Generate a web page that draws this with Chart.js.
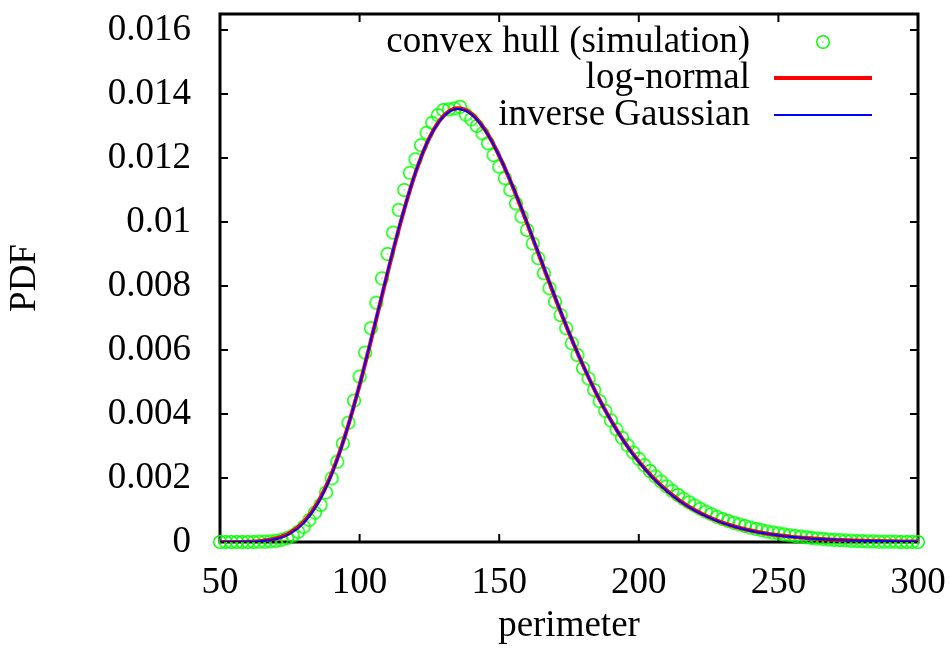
<!DOCTYPE html>
<html>
<head>
<meta charset="utf-8">
<script src="https://cdn.jsdelivr.net/npm/chart.js@4/dist/chart.umd.min.js"></script>
<style>
  html, body { margin: 0; padding: 0; background: #fff; }
  #wrap { width: 950px; height: 655px; }
</style>
</head>
<body>
<div id="wrap"><canvas id="chartPerimeterPdf"></canvas></div>
<script>
const X_TICKS = [50, 100, 150, 200, 250, 300];
const Y_TICKS = [0, 0.002, 0.004, 0.006, 0.008, 0.01, 0.012, 0.014, 0.016];

// simulated convex hull perimeters, histogram bin centres
const SIM_PERIMETER = [
    50, 52, 54, 56, 58, 60, 62, 64, 66, 68, 70, 72, 74, 76, 78, 80, 82, 84, 86, 88,
    90, 92, 94, 96, 98, 100, 102, 104, 106, 108, 110, 112, 114, 116, 118, 120, 122, 124, 126, 128,
    130, 132, 134, 136, 138, 140, 142, 144, 146, 148, 150, 152, 154, 156, 158, 160, 162, 164, 166, 168,
    170, 172, 174, 176, 178, 180, 182, 184, 186, 188, 190, 192, 194, 196, 198, 200, 202, 204, 206, 208,
    210, 212, 214, 216, 218, 220, 222, 224, 226, 228, 230, 232, 234, 236, 238, 240, 242, 244, 246, 248,
    250, 252, 254, 256, 258, 260, 262, 264, 266, 268, 270, 272, 274, 276, 278, 280, 282, 284, 286, 288,
    290, 292, 294, 296, 298, 300
];
const SIM_PDF = [
    0, 0, 0, 0, 0, 0, 0, 0.00001, 0.00001, 0.00002,
    0.00004, 0.00007, 0.00012, 0.0002, 0.00032, 0.00048, 0.00069, 0.00092, 0.00116, 0.00155,
    0.00199, 0.00251, 0.00308, 0.00373, 0.00442, 0.00517, 0.00592, 0.00668, 0.00748, 0.00824,
    0.0090, 0.00967, 0.01038, 0.0110, 0.01154, 0.01196, 0.0124, 0.01279, 0.0131, 0.01334,
    0.0135, 0.01352, 0.01355, 0.0136, 0.01336, 0.01321, 0.0130, 0.01277, 0.01246, 0.01209,
    0.01173, 0.01137, 0.0110, 0.01058, 0.01017, 0.00975, 0.00933, 0.00887, 0.0084, 0.00793,
    0.00751, 0.00709, 0.00668, 0.00621, 0.00584, 0.00543, 0.00511, 0.00475, 0.00440, 0.00410,
    0.00380, 0.00352, 0.00326, 0.00302, 0.00280, 0.00260, 0.00240, 0.00222, 0.00205, 0.00189,
    0.00174, 0.00160, 0.00147, 0.00135, 0.00124, 0.00114, 0.00104, 0.00095, 0.00087, 0.00079,
    0.00072, 0.00066, 0.00060, 0.00055, 0.00050, 0.00045, 0.00041, 0.00037, 0.00033, 0.00030,
    0.00027, 0.00024, 0.00021, 0.00019, 0.00017, 0.00015, 0.00013, 0.00011, 0.0001, 0.00008,
    0.00007, 0.00006, 0.00005, 0.00004, 0.00003, 0.00003, 0.00002, 0.00002, 0.00001, 0.00001,
    0.00001, 0.00001, 0, 0, 0, 0
];

// fitted densities, sampled every 5 units
const FIT_PERIMETER = [
    50, 55, 60, 65, 70, 75, 80, 85, 90, 95, 100, 105, 110, 115, 120, 125, 130,
    135, 140, 145, 150, 155, 160, 165, 170, 175, 180, 185, 190, 195, 200, 205, 210,
    215, 220, 225, 230, 235, 240, 245, 250, 255, 260, 265, 270, 275, 280, 285, 290, 295, 300
];
const LOGNORMAL_PDF = [
    0, 0.0000017, 0.0000088, 0.0000349, 0.000109, 0.000284, 0.000632, 0.00123, 0.002138,
    0.003376, 0.004904, 0.006626, 0.008406, 0.010087, 0.011535, 0.01263, 0.013307,
    0.013554, 0.013389, 0.012869, 0.01207, 0.011073, 0.009956, 0.008795, 0.00764,
    0.00654, 0.005523, 0.004608, 0.003804, 0.003107, 0.002515, 0.002018, 0.001607,
    0.001271, 0.000998, 0.00078, 0.000605, 0.000468, 0.00036, 0.000276, 0.000211,
    0.00016, 0.000122, 0.000092, 0.000069, 0.000052, 0.000039, 0.000029, 0.000022,
    0.000016, 0.000012
];
const INV_GAUSSIAN_PDF = [
    0, 0.0000008, 0.0000055, 0.000026, 0.000092, 0.000258, 0.000598, 0.001195, 0.002112,
    0.003365, 0.004912, 0.006648, 0.008432, 0.010108, 0.011545, 0.012628, 0.013294,
    0.013535, 0.013372, 0.01286, 0.012072, 0.011085, 0.009975, 0.008815, 0.007658,
    0.006552, 0.005528, 0.004606, 0.003796, 0.003096, 0.002502, 0.002004, 0.001594,
    0.001259, 0.000988, 0.000771, 0.000598, 0.000461, 0.000354, 0.00027, 0.000206,
    0.000156, 0.000118, 0.000089, 0.000067, 0.00005, 0.000037, 0.000028, 0.000021,
    0.000015, 0.000011
];

const FONT_FAMILY = '"Liberation Serif", "Times New Roman", serif';
const FONT_SIZE = 37;

// gnuplot style "circle with a dot" marker
function makeCircleDot() {
    const c = document.createElement('canvas');
    c.width = 18;
    c.height = 18;
    const g = c.getContext('2d');
    g.strokeStyle = '#00ff00';
    g.fillStyle = '#00ff00';
    g.lineWidth = 1.5;
    g.beginPath();
    g.arc(9, 9, 6.3, 0, Math.PI * 2);
    g.stroke();
    g.fillRect(8.4, 8.4, 1.2, 1.2);
    return c;
}
const circleDot = makeCircleDot();

function toPoints(xs, ys) {
    return xs.map((x, i) => ({ x: x, y: ys[i] }));
}

// closed frame with inward ticks on all four sides
const framePlugin = {
    id: 'frame',
    beforeDatasetsDraw(chart) {
        const { ctx, chartArea: a } = chart;
        const xs = chart.scales.x, ys = chart.scales.y;
        const len = 8;
        ctx.save();
        ctx.strokeStyle = '#000';
        ctx.lineWidth = 2;
        ctx.beginPath();
        xs.ticks.forEach(t => {
            const px = xs.getPixelForValue(t.value);
            ctx.moveTo(px, a.bottom);
            ctx.lineTo(px, a.bottom - len);
            ctx.moveTo(px, a.top);
            ctx.lineTo(px, a.top + len);
        });
        ys.ticks.forEach(t => {
            const py = ys.getPixelForValue(t.value);
            ctx.moveTo(a.left, py);
            ctx.lineTo(a.left + len, py);
            ctx.moveTo(a.right, py);
            ctx.lineTo(a.right - len, py);
        });
        ctx.stroke();
        ctx.lineWidth = 3;
        ctx.strokeRect(a.left, a.top, a.right - a.left, a.bottom - a.top);
        ctx.restore();
    }
};

// key in the top right corner: text first, sample to its right
const keyPlugin = {
    id: 'key',
    afterDatasetsDraw(chart) {
        const ctx = chart.ctx;
        const textRight = 750;
        const sampleLeft = 774, sampleRight = 872;
        const rows = [42, 78, 115];
        ctx.save();
        ctx.font = FONT_SIZE + 'px ' + FONT_FAMILY;
        ctx.fillStyle = '#000';
        ctx.textAlign = 'right';
        ctx.textBaseline = 'middle';
        chart.data.datasets.forEach((ds, i) => {
            const y = rows[i];
            ctx.fillText(ds.label, textRight, y);
            if (ds.showLine === false) {
                const cx = (sampleLeft + sampleRight) / 2;
                ctx.drawImage(ds.pointStyle, cx - ds.pointStyle.width / 2, y - ds.pointStyle.height / 2);
            } else {
                ctx.strokeStyle = ds.borderColor;
                ctx.lineWidth = ds.borderWidth;
                ctx.beginPath();
                ctx.moveTo(sampleLeft, y);
                ctx.lineTo(sampleRight, y);
                ctx.stroke();
            }
        });
        ctx.restore();
    }
};

Chart.defaults.font.family = FONT_FAMILY;
Chart.defaults.font.size = FONT_SIZE;
Chart.defaults.color = '#000';

const chartPerimeterPdf = createPerimeterPdfChart();

function createPerimeterPdfChart() {
    const data = {
        datasets: [{
            label: 'convex hull (simulation)',
            data: toPoints(SIM_PERIMETER, SIM_PDF),
            showLine: false,
            pointStyle: circleDot,
            pointRadius: 6.5,
            borderColor: '#00ff00',
            clip: false,
            order: 3,
        },
        {
            label: 'log-normal',
            data: toPoints(FIT_PERIMETER, LOGNORMAL_PDF),
            borderColor: '#ff0000',
            borderWidth: 4,
            pointRadius: 0,
            cubicInterpolationMode: 'monotone',
            order: 2,
        },
        {
            label: 'inverse Gaussian',
            data: toPoints(FIT_PERIMETER, INV_GAUSSIAN_PDF),
            borderColor: '#0000ff',
            borderWidth: 2,
            pointRadius: 0,
            cubicInterpolationMode: 'monotone',
            order: 1,
        },
        ]
    };

    const config = {
        type: 'line',
        data: data,
        options: {
            responsive: true,
            maintainAspectRatio: false,
            animation: false,
            layout: {
                padding: { left: 0, top: 14, right: 32, bottom: 0 }
            },
            plugins: {
                legend: { display: false },
                tooltip: { enabled: false },
            },
            scales: {
                x: {
                    type: 'linear',
                    min: 50,
                    max: 300,
                    grid: { display: false },
                    border: { display: false },
                    afterBuildTicks: (axis) => {
                        axis.ticks = X_TICKS.map(v => ({ value: v }));
                    },
                    afterFit: (axis) => {
                        axis.height = 113;
                        axis.paddingLeft = 0;
                        axis.paddingRight = 0;
                    },
                    ticks: {
                        padding: 11,
                        maxRotation: 0,
                        autoSkip: false,
                        callback: (v) => String(v),
                    },
                    title: {
                        display: true,
                        text: 'perimeter',
                        padding: { top: 0, bottom: 7 },
                    }
                },
                y: {
                    type: 'linear',
                    min: 0,
                    max: 0.0165,
                    grid: { display: false },
                    border: { display: false },
                    afterBuildTicks: (axis) => {
                        axis.ticks = Y_TICKS.map(v => ({ value: v }));
                    },
                    afterFit: (axis) => {
                        axis.width = 220;
                        axis.paddingTop = 0;
                        axis.paddingBottom = 0;
                    },
                    ticks: {
                        padding: 21,
                        autoSkip: false,
                        callback: (v) => String(+v.toFixed(3)),
                    },
                    title: {
                        display: true,
                        text: 'PDF',
                        padding: { top: 3, bottom: 0 },
                    }
                }
            }
        },
        plugins: [framePlugin, keyPlugin]
    };

    return new Chart(
        document.getElementById('chartPerimeterPdf'),
        config
    );
}
</script>
</body>
</html>
